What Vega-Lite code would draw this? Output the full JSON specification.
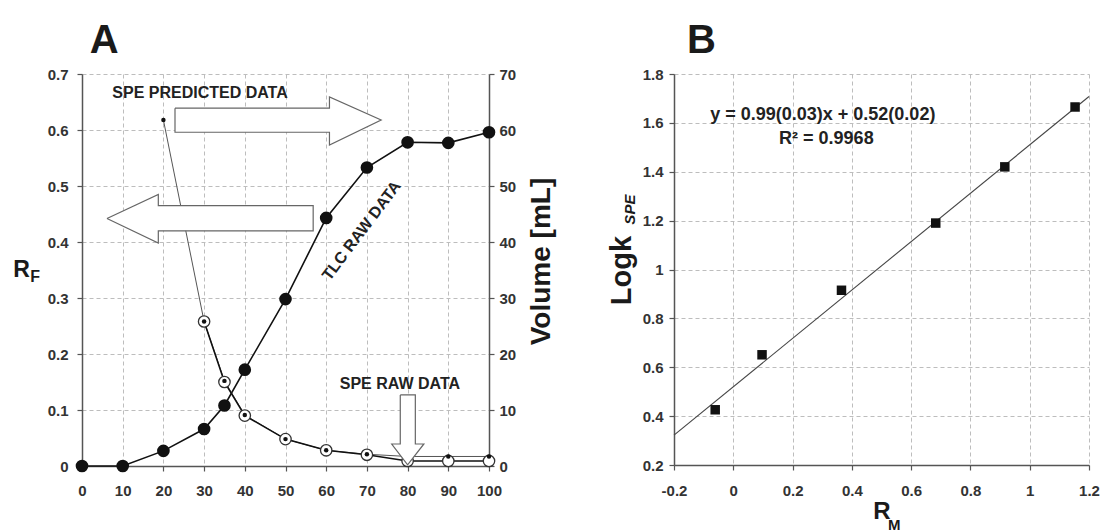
{
  "$schema": "https://vega.github.io/schema/vega-lite/v6.json",
  "background": "white",
  "padding": {"left": 12, "top": 21, "right": 0, "bottom": 0},
  "datasets": {
    "tlc": [
      {"c": 0, "rf": 0}, {"c": 10, "rf": 0}, {"c": 20, "rf": 0.027}, {"c": 30, "rf": 0.066},
      {"c": 35, "rf": 0.108}, {"c": 40, "rf": 0.172}, {"c": 50, "rf": 0.298}, {"c": 60, "rf": 0.443},
      {"c": 70, "rf": 0.533}, {"c": 80, "rf": 0.578}, {"c": 90, "rf": 0.577}, {"c": 100, "rf": 0.596}
    ],
    "pred": [
      {"c": 20, "vol": 61.8}, {"c": 30, "vol": 25.8}, {"c": 35, "vol": 15.2}, {"c": 40, "vol": 9.1},
      {"c": 50, "vol": 4.8}, {"c": 60, "vol": 2.8}, {"c": 70, "vol": 2.1}, {"c": 80, "vol": 1.7},
      {"c": 90, "vol": 1.7}, {"c": 100, "vol": 1.7}
    ],
    "raw": [
      {"c": 30, "vol": 25.8}, {"c": 35, "vol": 15.0}, {"c": 40, "vol": 9.0}, {"c": 50, "vol": 4.8},
      {"c": 60, "vol": 2.8}, {"c": 70, "vol": 2.0}, {"c": 80, "vol": 0.9}, {"c": 90, "vol": 0.9},
      {"c": 100, "vol": 0.9}
    ],
    "arrows": [
      {"arrow": "right", "i": 0, "c": 22.85, "vol": 63.9}, {"arrow": "right", "i": 1, "c": 60.8, "vol": 63.9},
      {"arrow": "right", "i": 2, "c": 60.8, "vol": 65.9}, {"arrow": "right", "i": 3, "c": 73.5, "vol": 61.8},
      {"arrow": "right", "i": 4, "c": 60.8, "vol": 57.3}, {"arrow": "right", "i": 5, "c": 60.8, "vol": 59.6},
      {"arrow": "right", "i": 6, "c": 22.85, "vol": 59.6}, {"arrow": "right", "i": 7, "c": 22.85, "vol": 63.9},
      {"arrow": "left", "i": 0, "c": 6.14, "vol": 44.2}, {"arrow": "left", "i": 1, "c": 18.75, "vol": 48.5},
      {"arrow": "left", "i": 2, "c": 18.75, "vol": 46.5}, {"arrow": "left", "i": 3, "c": 56.8, "vol": 46.5},
      {"arrow": "left", "i": 4, "c": 56.8, "vol": 42.0}, {"arrow": "left", "i": 5, "c": 18.75, "vol": 42.0},
      {"arrow": "left", "i": 6, "c": 18.75, "vol": 39.8}, {"arrow": "left", "i": 7, "c": 6.14, "vol": 44.2},
      {"arrow": "down", "i": 0, "c": 78.2, "vol": 12.7}, {"arrow": "down", "i": 1, "c": 81.9, "vol": 12.7},
      {"arrow": "down", "i": 2, "c": 81.9, "vol": 3.93}, {"arrow": "down", "i": 3, "c": 84.0, "vol": 3.93},
      {"arrow": "down", "i": 4, "c": 80.0, "vol": 0.2}, {"arrow": "down", "i": 5, "c": 76.1, "vol": 3.93},
      {"arrow": "down", "i": 6, "c": 78.2, "vol": 3.93}, {"arrow": "down", "i": 7, "c": 78.2, "vol": 12.7}
    ],
    "labelsA": [
      {"c": 29, "vol": 66.6, "t": "SPE PREDICTED DATA", "a": 0},
      {"c": 78.1, "vol": 14.6, "t": "SPE RAW DATA", "a": 0},
      {"c": 68.7, "vol": 42, "t": "TLC RAW DATA", "a": -53}
    ],
    "subF": [{"c": -11.5, "rf": 0.329, "t": "F"}],
    "b": [
      {"rm": -0.061, "lk": 0.426}, {"rm": 0.097, "lk": 0.651}, {"rm": 0.365, "lk": 0.915},
      {"rm": 0.683, "lk": 1.19}, {"rm": 0.916, "lk": 1.42}, {"rm": 1.153, "lk": 1.665}
    ],
    "fit": [{"rm": -0.2, "lk": 0.322}, {"rm": 1.2, "lk": 1.708}],
    "eq": [
      {"rm": 0.302, "lk": 1.633, "t": "y = 0.99(0.03)x + 0.52(0.02)"},
      {"rm": 0.314, "lk": 1.535, "t": "R² = 0.9968"}
    ],
    "subSPE": [{"rm": -0.331, "lk": 1.245, "t": "SPE"}],
    "subM": [{"rm": 0.543, "lk": -0.066, "t": "M"}]
  },
  "spacing": 52,
  "hconcat": [
    {
      "width": 407,
      "height": 392,
      "title": {"text": "A", "anchor": "start", "fontSize": 40, "fontWeight": "bold", "dx": 77, "offset": 6, "color": "#1a1a1a"},
      "layer": [
        {
          "encoding": {
            "x": {"field": "c", "type": "quantitative", "scale": {"domain": [0, 100]},
                  "axis": {"values": [0, 10, 20, 30, 40, 50, 60, 70, 80, 90, 100], "title": null, "grid": true, "labelPadding": 12}},
            "y": {"field": "rf", "type": "quantitative", "scale": {"domain": [0, 0.7]},
                  "axis": {"values": [0, 0.1, 0.2, 0.3, 0.4, 0.5, 0.6, 0.7], "format": "~g", "grid": true, "labelPadding": 9,
                           "title": "R", "titleAngle": 0, "titleFontSize": 23, "titleX": -61, "titleY": 202,
                           "titleAlign": "center", "titleBaseline": "alphabetic"}}
          },
          "layer": [
            {"data": {"name": "tlc"}, "mark": {"type": "line", "color": "#111", "strokeWidth": 1.6}},
            {"data": {"name": "tlc"}, "mark": {"type": "point", "shape": "circle", "filled": true, "color": "#111", "opacity": 1, "size": 160}},
            {"data": {"name": "subF"}, "mark": {"type": "text", "fontSize": 16, "fontWeight": "bold", "align": "center", "baseline": "alphabetic", "color": "#1a1a1a"},
             "encoding": {"text": {"field": "t"}}}
          ]
        },
        {
          "encoding": {
            "x": {"field": "c", "type": "quantitative", "scale": {"domain": [0, 100]},
                  "axis": {"values": [0, 10, 20, 30, 40, 50, 60, 70, 80, 90, 100], "title": null, "grid": true, "labelPadding": 12}},
            "y": {"field": "vol", "type": "quantitative", "scale": {"domain": [0, 70]},
                  "axis": {"orient": "right", "values": [0, 10, 20, 30, 40, 50, 60, 70], "grid": false, "labelPadding": 5,
                           "title": "Volume [mL]", "titleAngle": 270, "titleX": 52, "titleY": 187,
                           "titleAlign": "center", "titleBaseline": "middle"}}
          },
          "layer": [
            {"data": {"name": "pred"}, "mark": {"type": "line", "color": "#555", "strokeWidth": 1}},
            {"data": {"name": "raw"}, "mark": {"type": "line", "color": "#111", "strokeWidth": 1.6}},
            {"data": {"name": "raw"}, "mark": {"type": "point", "shape": "circle", "filled": false, "fill": "white", "stroke": "#333", "strokeWidth": 1.3, "opacity": 1, "size": 130}},
            {"data": {"name": "pred"}, "mark": {"type": "point", "shape": "circle", "filled": true, "color": "#111", "opacity": 1, "size": 20}},
            {"data": {"name": "arrows"}, "mark": {"type": "line", "stroke": "#666", "strokeWidth": 1.2, "fill": "white"},
             "encoding": {"detail": {"field": "arrow"}, "order": {"field": "i", "type": "quantitative"}}},
            {"data": {"name": "labelsA"}, "mark": {"type": "text", "fontSize": 16, "fontWeight": "bold", "align": "center", "baseline": "middle", "color": "#222"},
             "encoding": {"text": {"field": "t"}, "angle": {"field": "a", "type": "quantitative", "scale": null}}}
          ]
        }
      ],
      "resolve": {"scale": {"y": "independent"}}
    },
    {
      "width": 415,
      "height": 391,
      "title": {"text": "B", "anchor": "start", "fontSize": 40, "fontWeight": "bold", "dx": 80, "offset": 6, "color": "#1a1a1a"},
      "encoding": {
        "x": {"field": "rm", "type": "quantitative", "scale": {"domain": [-0.2, 1.2]},
              "axis": {"values": [-0.2, 0, 0.2, 0.4, 0.6, 0.8, 1, 1.2], "format": "~g", "labelExpr": "replace(datum.label, '−', '-')",
                       "grid": true, "labelPadding": 13, "title": "R", "titleFontSize": 24, "titleY": 53, "titleBaseline": "alphabetic"}},
        "y": {"field": "lk", "type": "quantitative", "scale": {"domain": [0.2, 1.8]},
              "axis": {"values": [0.2, 0.4, 0.6, 0.8, 1, 1.2, 1.4, 1.6, 1.8], "format": "~g", "grid": true, "labelPadding": 6,
                       "title": "Logk", "titleFontSize": 29, "titleAngle": 270, "titleX": -44, "titleY": 196,
                       "titleAlign": "center", "titleBaseline": "alphabetic"}}
      },
      "layer": [
        {"data": {"name": "fit"}, "mark": {"type": "line", "color": "#444", "strokeWidth": 1.1}},
        {"data": {"name": "b"}, "mark": {"type": "point", "shape": "square", "filled": true, "color": "#111", "opacity": 1, "size": 90}},
        {"data": {"name": "eq"}, "mark": {"type": "text", "fontSize": 18, "fontWeight": "bold", "align": "center", "baseline": "middle", "color": "#222"},
         "encoding": {"text": {"field": "t"}}},
        {"data": {"name": "subSPE"}, "mark": {"type": "text", "fontSize": 15, "fontWeight": "bold", "fontStyle": "italic", "angle": 270, "align": "center", "baseline": "alphabetic", "color": "#1a1a1a"},
         "encoding": {"text": {"field": "t"}}},
        {"data": {"name": "subM"}, "mark": {"type": "text", "fontSize": 15, "fontWeight": "bold", "align": "center", "baseline": "alphabetic", "color": "#1a1a1a"},
         "encoding": {"text": {"field": "t"}}}
      ]
    }
  ],
  "config": {
    "view": {"stroke": null},
    "font": "Liberation Sans",
    "axis": {
      "labelFont": "Liberation Sans", "labelFontSize": 15, "labelFontWeight": "bold", "labelColor": "#333", "labelFlush": false,
      "domainColor": "#555", "domainWidth": 1.5, "tickColor": "#555", "tickSize": 5, "tickWidth": 1.2,
      "gridColor": "#bdbdbd", "gridDash": [4, 3], "gridWidth": 1,
      "titleFont": "Liberation Sans", "titleFontWeight": "bold", "titleFontSize": 28, "titleColor": "#1a1a1a"
    },
    "title": {"font": "Liberation Sans"}
  }
}
